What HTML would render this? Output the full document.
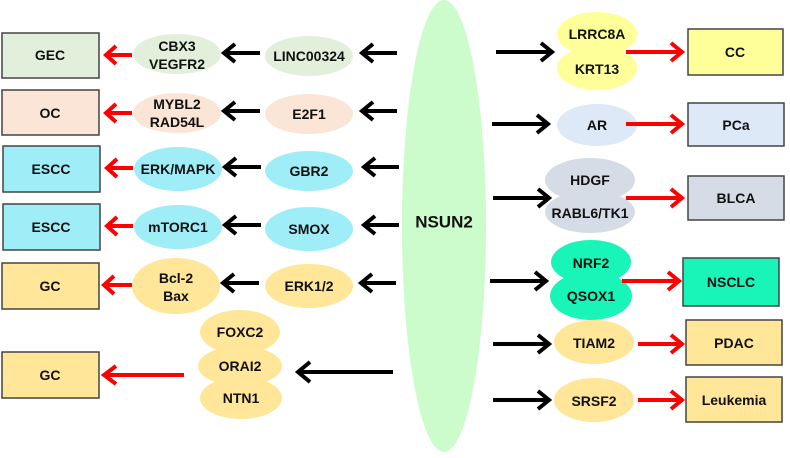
<!DOCTYPE html>
<html><head><meta charset="utf-8"><style>
html,body{margin:0;padding:0;background:#fff}
text{font-family:"Liberation Sans",sans-serif;font-weight:bold;font-size:14px;fill:#111;text-anchor:middle;dominant-baseline:central}
</style></head><body>
<svg width="790" height="453" viewBox="0 0 790 453" xmlns="http://www.w3.org/2000/svg">
<ellipse cx="444" cy="226" rx="42" ry="226" fill="#ccfccc"/>
<text x="444" y="222" style="font-size:17px">NSUN2</text>

<g stroke="#444" stroke-width="1.5">
<rect x="2" y="33" width="97" height="45" fill="#e2efda"/>
<rect x="2" y="90" width="97" height="45" fill="#fbe5d6"/>
<rect x="3" y="146" width="97" height="46" fill="#9fedf7"/>
<rect x="3" y="204" width="97" height="46" fill="#9fedf7"/>
<rect x="2" y="263" width="97" height="46" fill="#ffe699"/>
<rect x="2" y="352" width="97" height="46" fill="#ffe699"/>
<rect x="688" y="29" width="95" height="46" fill="#ffff99"/>
<rect x="688" y="103" width="96" height="43" fill="#dde9f7"/>
<rect x="688" y="176" width="96" height="44" fill="#d6dce5"/>
<rect x="683" y="258" width="96" height="48" fill="#19f5b8"/>
<rect x="686" y="320" width="96" height="45" fill="#ffe699"/>
<rect x="686" y="377" width="96" height="45" fill="#ffe699"/>
</g>

<g>
<text x="50" y="55">GEC</text><text x="50" y="113">OC</text><text x="51" y="169">ESCC</text>
<text x="51" y="227">ESCC</text><text x="50" y="286">GC</text><text x="50" y="375">GC</text>
<text x="735" y="52">CC</text><text x="736" y="125">PCa</text><text x="736" y="198">BLCA</text>
<text x="731" y="282">NSCLC</text><text x="734" y="343">PDAC</text><text x="734" y="400">Leukemia</text>
</g>

<g>
<ellipse cx="177" cy="54" rx="44" ry="20" fill="#e2efda"/>
<ellipse cx="309" cy="56" rx="44" ry="20" fill="#e2efda"/>
<ellipse cx="177" cy="113" rx="44" ry="20" fill="#fbe5d6"/>
<ellipse cx="309" cy="114" rx="44" ry="20" fill="#fbe5d6"/>
<ellipse cx="178" cy="169" rx="44" ry="22" fill="#9fedf7"/>
<ellipse cx="309" cy="171" rx="44" ry="20" fill="#9fedf7"/>
<ellipse cx="178" cy="227" rx="44" ry="22" fill="#9fedf7"/>
<ellipse cx="309" cy="229" rx="44" ry="22" fill="#9fedf7"/>
<ellipse cx="176" cy="286" rx="44" ry="28" fill="#ffe699"/>
<ellipse cx="309" cy="286" rx="44" ry="22" fill="#ffe699"/>
<ellipse cx="240" cy="332" rx="40" ry="22" fill="#ffe699"/>
<ellipse cx="240" cy="366" rx="42" ry="20" fill="#ffe699"/>
<ellipse cx="241" cy="398" rx="41" ry="21" fill="#ffe699"/>
<ellipse cx="597" cy="34" rx="40" ry="22" fill="#ffff99"/>
<ellipse cx="597" cy="68" rx="40" ry="22" fill="#ffff99"/>
<ellipse cx="597" cy="125" rx="40" ry="21" fill="#dde9f7"/>
<ellipse cx="590" cy="180" rx="45" ry="22" fill="#d6dce5"/>
<ellipse cx="590" cy="212" rx="45" ry="21" fill="#d6dce5"/>
<ellipse cx="591" cy="262" rx="40" ry="22" fill="#19f5b8"/>
<ellipse cx="591" cy="296" rx="41" ry="24" fill="#19f5b8"/>
<ellipse cx="594" cy="342" rx="40" ry="22" fill="#ffe699"/>
<ellipse cx="594" cy="400" rx="40" ry="22" fill="#ffe699"/>
</g>
<g style="font-size:13px">
<text x="177" y="46">CBX3</text><text x="177" y="64">VEGFR2</text>
<text x="309" y="56">LINC00324</text>
<text x="177" y="104">MYBL2</text><text x="177" y="122">RAD54L</text>
<text x="309" y="114">E2F1</text>
<text x="178" y="169">ERK/MAPK</text><text x="309" y="171">GBR2</text>
<text x="178" y="227">mTORC1</text><text x="309" y="229">SMOX</text>
<text x="176" y="278">Bcl-2</text><text x="176" y="296">Bax</text>
<text x="309" y="286">ERK1/2</text>
<text x="240" y="332">FOXC2</text><text x="240" y="366">ORAI2</text><text x="241" y="398">NTN1</text>
<text x="597" y="34">LRRC8A</text><text x="597" y="69">KRT13</text>
<text x="597" y="125">AR</text>
<text x="590" y="180">HDGF</text><text x="590" y="213">RABL6/TK1</text>
<text x="591" y="263">NRF2</text><text x="591" y="296">QSOX1</text>
<text x="594" y="343">TIAM2</text><text x="594" y="401">SRSF2</text>
</g>

<g fill="none" stroke="#000" stroke-width="4" stroke-linejoin="miter">
<path d="M397 53H362M373 44L362 53L373 62"/>
<path d="M260 53H224M235 44L224 53L235 62"/>
<path d="M397 111H362M373 102L362 111L373 120"/>
<path d="M260 111H224M235 102L224 111L235 120"/>
<path d="M399 167H364M375 158L364 167L375 176"/>
<path d="M261 167H225M236 158L225 167L236 176"/>
<path d="M399 225H364M375 216L364 225L375 234"/>
<path d="M261 225H225M236 216L225 225L236 234"/>
<path d="M396 283H361M372 274L361 283L372 292"/>
<path d="M259 283H223M234 274L223 283L234 292"/>
<path d="M393 372H298M310 362L298 372L310 382"/>
<path d="M496 52H552M541 43L552 52L541 61"/>
<path d="M492 124H548M537 115L548 124L537 133"/>
<path d="M493 198H549M538 189L549 198L538 207"/>
<path d="M490 281H546M535 272L546 281L535 290"/>
<path d="M493 344H549M538 335L549 344L538 353"/>
<path d="M493 400H549M538 391L549 400L538 409"/>
</g>
<g fill="none" stroke="#ff0000" stroke-width="4">
<path d="M132 55H106M116 46L106 55L116 64"/>
<path d="M132 113H106M116 104L106 113L116 122"/>
<path d="M133 168H107M117 159L107 168L117 177"/>
<path d="M133 226H107M117 217L107 226L117 235"/>
<path d="M132 285H104M114 276L104 285L114 294"/>
<path d="M184 375H104M116 366L104 375L116 384"/>
<path d="M626 52H682M671 43L682 52L671 61"/>
<path d="M626 124H682M671 115L682 124L671 133"/>
<path d="M626 198H682M671 189L682 198L671 207"/>
<path d="M622 281H679M668 272L679 281L668 290"/>
<path d="M638 344H682M671 335L682 344L671 353"/>
<path d="M638 400H682M671 391L682 400L671 409"/>
</g>
</svg>
</body></html>
